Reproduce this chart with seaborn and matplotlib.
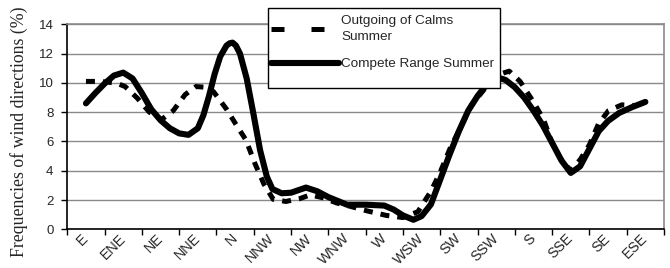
import numpy as np
import pandas as pd
import matplotlib
matplotlib.use("Agg")
import matplotlib.pyplot as plt
from matplotlib.lines import Line2D
from matplotlib.patches import Rectangle
import seaborn as sb

#################### DADOS ####################
direcoes = ['E', 'ENE', 'NE', 'NNE', 'N', 'NNW', 'NW', 'WNW',
            'W', 'WSW', 'SW', 'SSW', 'S', 'SSE', 'SE', 'ESE']

# curva "Compete Range Summer" (posicao em unidades de categoria)
x_range = [0.0, 0.25, 0.5, 0.75, 1.0, 1.25, 1.5, 1.75, 2.0, 2.25, 2.5, 2.75,
           3.0, 3.15, 3.3, 3.45, 3.6, 3.77, 3.85, 3.93, 4.02, 4.13, 4.31, 4.49,
           4.67, 4.85, 5.0, 5.25, 5.5, 5.9, 6.2, 6.5, 7.0, 7.5, 8.0, 8.25,
           8.5, 8.78, 9.0, 9.25, 9.5, 9.75, 10.0, 10.25, 10.5, 10.75, 11.0,
           11.25, 11.5, 11.75, 12.0, 12.25, 12.5, 12.75, 13.0, 13.25, 13.5,
           13.75, 14.0, 14.3, 14.65, 15.0]
y_range = [8.6, 9.3, 9.95, 10.5, 10.7, 10.3, 9.3, 8.2, 7.45, 6.9, 6.55, 6.45,
           6.9, 7.8, 9.1, 10.6, 11.8, 12.55, 12.7, 12.75, 12.55, 12.0, 10.3, 7.9,
           5.4, 3.6, 2.75, 2.46, 2.5, 2.85, 2.6, 2.2, 1.68, 1.68, 1.62, 1.35,
           0.95, 0.65, 0.9, 1.7, 3.4, 5.1, 6.7, 8.1, 9.1, 9.9, 10.4,
           10.2, 9.7, 9.0, 8.1, 7.1, 5.9, 4.7, 3.85, 4.3, 5.5,
           6.7, 7.4, 7.95, 8.35, 8.7]

# curva "Outgoing of Calms Summer"
x_calms = [0.0, 0.3, 0.6, 0.85, 1.05, 1.38, 1.7, 2.03, 2.34, 2.66, 2.95, 3.2,
           3.42, 3.77, 4.05, 4.29, 4.53, 4.77, 5.02, 5.36, 5.74, 6.01, 6.36,
           6.72, 7.04, 7.55, 8.05, 8.5, 8.9, 9.25, 9.49, 9.76, 10.03, 10.34,
           10.79, 11.1, 11.35, 11.64, 12.0, 12.27, 12.5, 12.72, 13.0, 13.25,
           13.5, 13.74, 14.01, 14.37, 14.75, 15.0]
y_calms = [10.1, 10.1, 10.05, 9.95, 9.75, 8.95, 8.0, 7.5, 8.1, 9.2, 9.75, 9.7,
           9.4, 8.2, 7.05, 6.1, 4.5, 3.1, 2.05, 1.9, 2.1, 2.35, 2.15,
           1.8, 1.6, 1.25, 0.95, 0.8, 1.2, 2.6, 3.85, 5.5, 6.9, 8.5,
           9.9, 10.6, 10.8, 10.1, 8.7, 7.5, 5.9, 4.85, 4.0, 4.75,
           5.77, 7.18, 8.1, 8.5, 8.45, 8.7]

df_range = pd.DataFrame({'x': x_range, 'y': y_range})
df_calms = pd.DataFrame({'x': x_calms, 'y': y_calms})

#################### GRAFICO ####################
sb.set_style('white')
plt.rcParams['font.family'] = ['Liberation Sans', 'DejaVu Sans']

W, H = 670, 268
fig = plt.figure(figsize=(W / 100, H / 100), dpi=100)
ax = fig.add_axes([67.3 / W, 1 - 229.3 / H, 596.7 / W, 205 / H])

sb.lineplot(data=df_calms, x='x', y='y', ax=ax, color='black', linewidth=3.6,
            linestyle=(0, (1.8, 1.6)), dash_capstyle='butt', zorder=3)
sb.lineplot(data=df_range, x='x', y='y', ax=ax, color='black', linewidth=4.4,
            solid_capstyle='round', zorder=4)

ax.set_xlim(-0.5, 15.5)
ax.set_ylim(0, 14)
ax.set_yticks(range(0, 15, 2))
ax.yaxis.grid(True, color='#8a8a8a', linewidth=1.0)
ax.set_axisbelow(True)

# ticks nas divisas das categorias, rotulos no centro
ax.set_xticks(np.arange(-0.5, 16, 1.0))
ax.set_xticklabels([])
ax.set_xticks(range(16), direcoes, minor=True)
ax.tick_params(axis='x', which='major', direction='out', length=4, width=1, color='black', bottom=True)
ax.tick_params(axis='x', which='minor', length=0, pad=5, labelsize=10.3)
for t in ax.get_xticklabels(minor=True):
    t.set_rotation(45)
    t.set_ha('right')
    t.set_va('center')
    t.set_rotation_mode('anchor')
ax.tick_params(axis='y', direction='out', length=4, width=1, color='black', left=True,
               labelsize=9.5, pad=6)

ax.set_xlabel('')
ax.set_ylabel('')
for s in ['top', 'right']:
    ax.spines[s].set_color('#8a8a8a')
    ax.spines[s].set_linewidth(1.2)
for s in ['left', 'bottom']:
    ax.spines[s].set_color('black')
    ax.spines[s].set_linewidth(1.2)

fig.text(19 / W, 1 - 132 / H, 'Frequencies of wind directions (%)', rotation=90,
         ha='center', va='center', fontsize=12.8, family=['Liberation Serif', 'DejaVu Serif'])

# legenda
h1 = Line2D([], [], color='black', linewidth=3.6, linestyle=(0, (2.6, 5.4)), dash_capstyle='butt')
h2 = Line2D([], [], color='black', linewidth=4.4, solid_capstyle='round')
fig.patches.append(Rectangle((268 / W, 1 - 88 / H), 232 / W, 80 / H, transform=fig.transFigure,
                             facecolor='white', edgecolor='black', linewidth=1.0, zorder=4))
leg = fig.legend([h1, h2], ['Outgoing of Calms\nSummer', 'Compete Range Summer'],
                 loc='upper left', bbox_to_anchor=(268 / W, 1 - 12 / H), bbox_transform=fig.transFigure,
                 frameon=False, fontsize=9.7, handlelength=5.1, handletextpad=0.12,
                 borderaxespad=0, borderpad=0.2, labelspacing=1.1)
leg.set_zorder(5)
leg.get_texts()[0].set_linespacing(1.5)

fig.savefig('out.png', dpi=100)
